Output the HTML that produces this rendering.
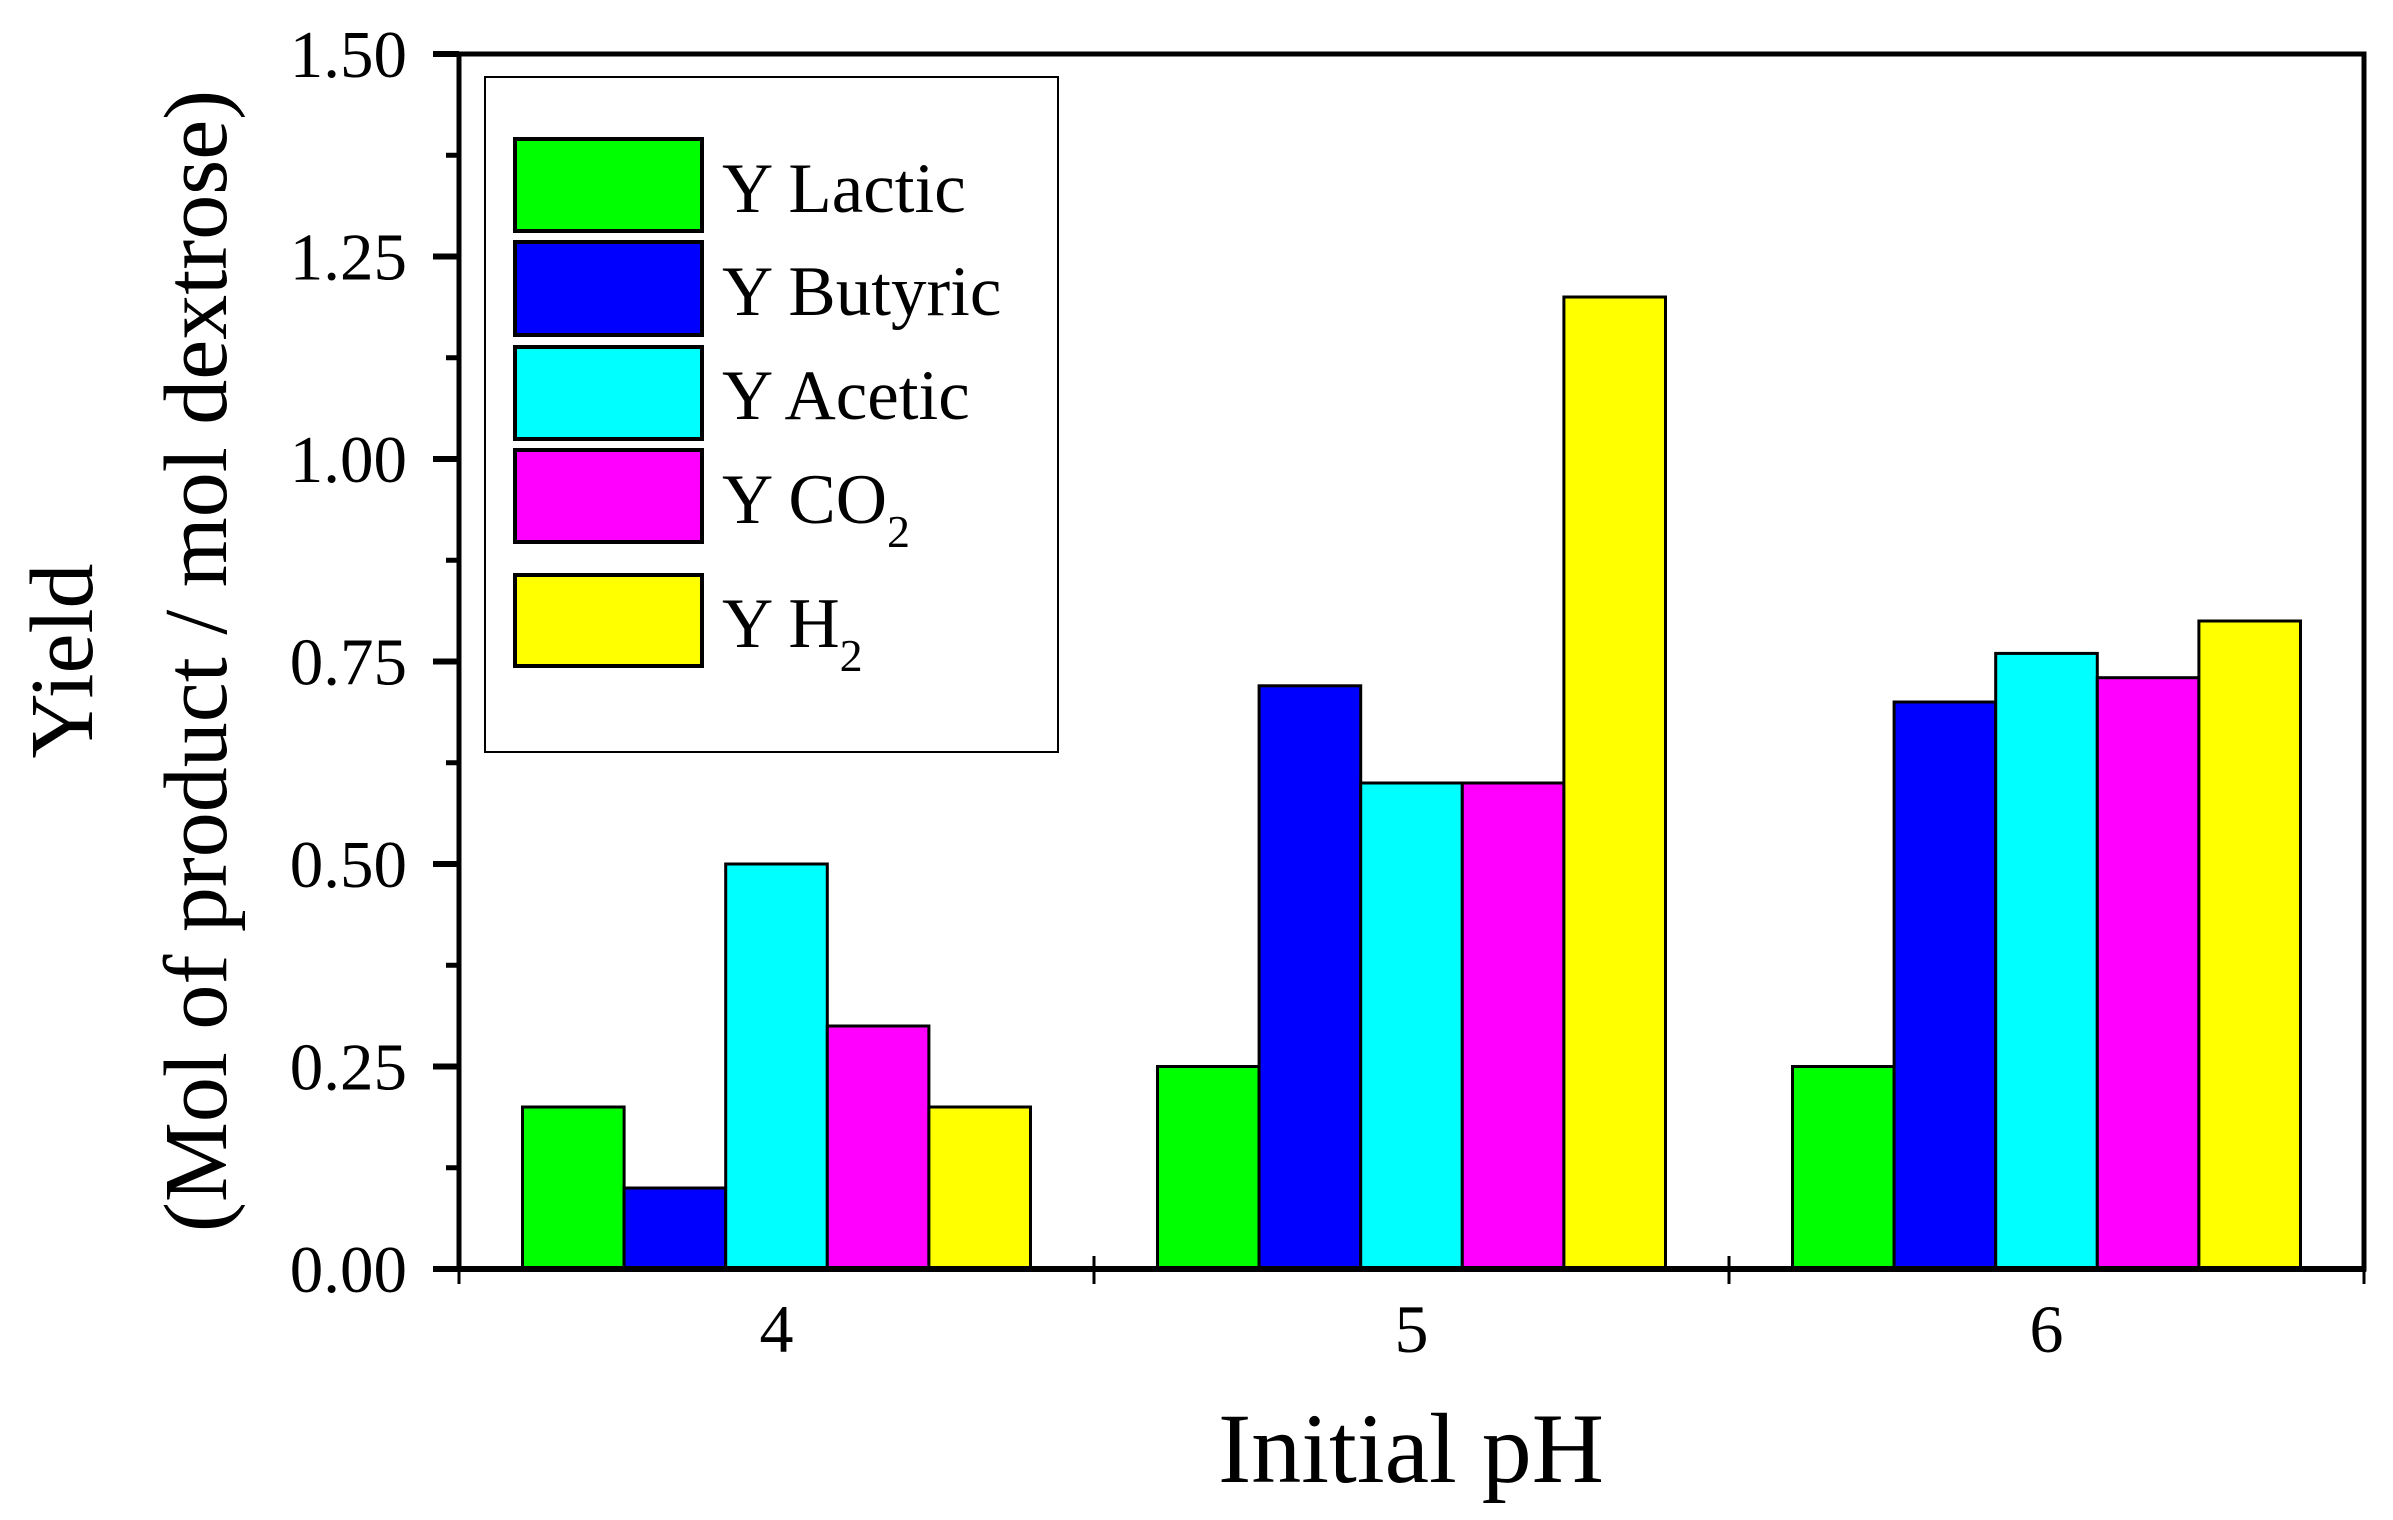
<!DOCTYPE html>
<html><head><meta charset="utf-8"><style>
html,body{margin:0;padding:0;background:#fff;}
svg{display:block;font-family:"Liberation Serif",serif;}
</style></head><body>
<svg id="chart" width="2393" height="1520" viewBox="0 0 2393 1520" xmlns="http://www.w3.org/2000/svg">
<rect width="2393" height="1520" fill="#fff"/>
<g id="bars"></g>
<g id="axes"></g>
<g id="legend"></g>
<text x="1411" y="1482" font-size="100" text-anchor="middle">Initial pH</text>
<g transform="translate(0,661) rotate(-90)">
<text x="0" y="92" font-size="90" text-anchor="middle">Yield</text>
<text x="0" y="226" font-size="90" text-anchor="middle">(Mol of product / mol dextrose)</text>
</g>
</svg>
<script>
const categories = ["4","5","6"];
const seriesNames = ["Y Lactic","Y Butyric","Y Acetic","Y CO2","Y H2"];
const lactic = [0.20,0.25,0.25];
const butyric = [0.10,0.72,0.70];
const acetic = [0.50,0.60,0.76];
const co2 = [0.30,0.60,0.73];
const h2 = [0.20,1.20,0.80];
const yTicks = [0,0.25,0.5,0.75,1.0,1.25,1.5];
const yTickLabels = ["0.00","0.25","0.50","0.75","1.00","1.25","1.50"];

const series = [lactic,butyric,acetic,co2,h2];
const colors = ["#00ff00","#0000ff","#00ffff","#ff00ff","#ffff00"];
const NS="http://www.w3.org/2000/svg";
const X0=459,X1=2364,Y0=1269,Y1=54,YMAX=1.5;
const catW=(X1-X0)/categories.length;
const barW=catW*0.8/series.length;
const yScale=v=>Y0-(v/YMAX)*(Y0-Y1);
const xCat=i=>X0+catW*(i+0.5);
function mk(tag,attrs,parent){const e=document.createElementNS(NS,tag);for(const k in attrs)e.setAttribute(k,attrs[k]);parent.appendChild(e);return e;}
const bars=document.getElementById('bars');
series.forEach((s,si)=>{s.forEach((v,ci)=>{
  const x=xCat(ci)-catW*0.4+si*barW;
  const r=mk('rect',{x:x,y:yScale(v),width:barW,height:Y0-yScale(v),fill:colors[si],stroke:'#000','stroke-width':3},bars);
  
  
});});
const ax=document.getElementById('axes');
mk('rect',{x:X0,y:Y1,width:X1-X0,height:Y0-Y1,fill:'none',stroke:'#000','stroke-width':5},ax);
mk('line',{x1:X0-26,x2:X1+2,y1:Y0,y2:Y0,stroke:'#000','stroke-width':6},ax);
yTicks.forEach((t,i)=>{
  const y=yScale(t);
  mk('line',{x1:X0-26,x2:X0,y1:y,y2:y,stroke:'#000','stroke-width':6},ax);
  const tx=mk('text',{x:407,y:y+23,'font-size':67,'text-anchor':'end'},ax);
  tx.textContent=yTickLabels[i];
  
  
  if(i<yTicks.length-1){const ym=yScale(t+0.125);mk('line',{x1:X0-13,x2:X0,y1:ym,y2:ym,stroke:'#000','stroke-width':5},ax);}
});
for(let i=0;i<=categories.length;i++){const x=X0+catW*i;mk('line',{x1:x,x2:x,y1:Y0-13,y2:Y0+15,stroke:'#000','stroke-width':3},ax);}
categories.forEach((c,i)=>{
  const t=mk('text',{x:xCat(i),y:1352,'font-size':68,'text-anchor':'middle'},ax);
  t.textContent=c;
  
  
});
const lg=document.getElementById('legend');
mk('rect',{x:485,y:77,width:573,height:675,fill:'#fff',stroke:'#000','stroke-width':2},lg);
const sw=[[139,231,212],[242,335,315],[347,439,419],[450,542,523],[575,666,647]];
const labels=[["Y Lactic",""],["Y Butyric",""],["Y Acetic",""],["Y CO","2"],["Y H","2"]];
sw.forEach((r,i)=>{
  const s=mk('rect',{x:515,y:r[0],width:187,height:r[1]-r[0],fill:colors[i],stroke:'#000','stroke-width':4},lg);
  
  
  const t=mk('text',{x:722,y:r[2],'font-size':71},lg);
  
  
  t.appendChild(document.createTextNode(labels[i][0]));
  if(labels[i][1]){const ts=mk('tspan',{'font-size':46,dy:24},t);ts.textContent=labels[i][1];}
});
</script>
</body></html>
